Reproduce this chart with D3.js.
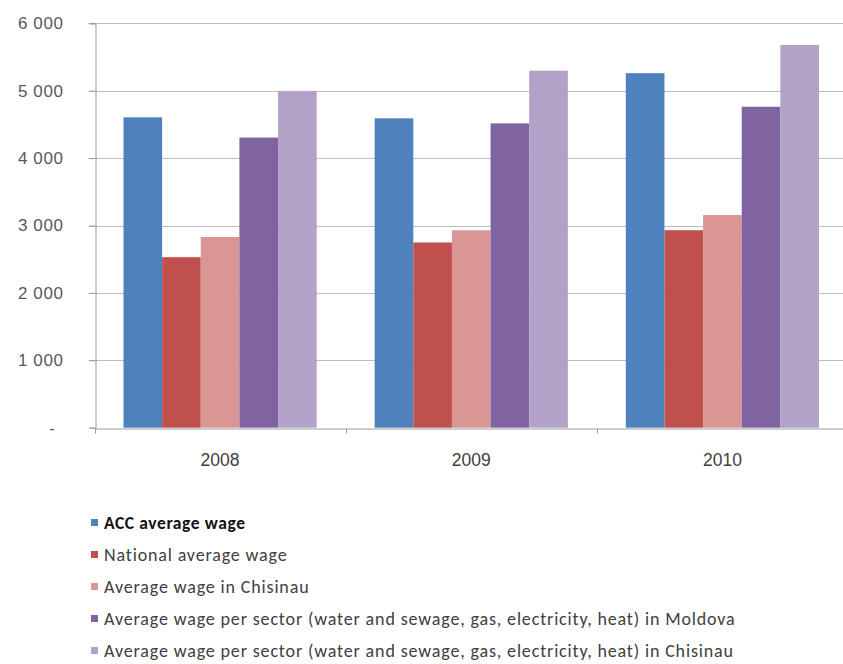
<!DOCTYPE html>
<html>
<head>
<meta charset="utf-8">
<script src="https://cdn.jsdelivr.net/npm/d3@7"></script>
<style>
  html, body { margin: 0; padding: 0; background: #ffffff; }
  svg { display: block; font-family: Carlito, Calibri, Lato, "Open Sans", sans-serif; }
</style>
</head>
<body>
<svg id="chart" width="843" height="664"></svg>
<script>
// Wage comparison, 2008-2010 (MDL)
const years = ["2008", "2009", "2010"];
const seriesNames = [
  "ACC average wage",
  "National average wage",
  "Average wage in Chisinau",
  "Average wage per sector (water and sewage, gas, electricity, heat) in Moldova",
  "Average wage per sector (water and sewage, gas, electricity, heat) in Chisinau"
];
const accWage      = [4605, 4590, 5260];
const nationalWage = [2530, 2748, 2930];
const chisinauWage = [2830, 2930, 3155];
const sectorMoldova   = [4305, 4515, 4762];
const sectorChisinau  = [4997, 5297, 5678];
const yTicks = [0, 1000, 2000, 3000, 4000, 5000, 6000];
const colors = ["#4F81BD", "#C0504D", "#DA9694", "#8064A2", "#B3A2C7"];

const seriesValues = [accWage, nationalWage, chisinauWage, sectorMoldova, sectorChisinau];

const svg = d3.select("#chart");
const plot = { left: 94.5, right: 848, top: 23.3, bottom: 427.7 };

const x = d3.scaleBand().domain(years).range([plot.left, plot.right]).paddingInner(0).paddingOuter(0);
// 150% gap between clusters: group occupies 5 / 6.5 of each band
const gapRatio = 1.5 / (seriesNames.length + 1.5);
const xs = d3.scaleBand().domain(d3.range(seriesNames.length))
  .range([x.bandwidth() * gapRatio / 2, x.bandwidth() * (1 - gapRatio / 2)]);
const y = d3.scaleLinear().domain([0, 6000]).range([plot.bottom, plot.top]);

const fmt = d3.formatLocale({ decimal: ",", thousands: " ", grouping: [3] }).format(",.0f");

// horizontal gridlines
svg.append("g")
  .selectAll("line")
  .data(yTicks.filter(d => d > 0))
  .join("line")
  .attr("x1", plot.left - 6).attr("x2", plot.right)
  .attr("y1", d => Math.round(y(d)) + 0.5).attr("y2", d => Math.round(y(d)) + 0.5)
  .attr("stroke", "#bdbdbd").attr("stroke-width", 1);

// bars
const groups = svg.append("g").selectAll("g")
  .data(years)
  .join("g")
  .attr("transform", d => `translate(${x(d)},0)`);

groups.selectAll("rect")
  .data((yr, i) => seriesValues.map((vals, s) => ({ s, v: vals[i] })))
  .join("rect")
  .attr("x", d => xs(d.s))
  .attr("width", xs.bandwidth())
  .attr("y", d => y(d.v))
  .attr("height", d => y(0) - y(d.v))
  .attr("fill", d => colors[d.s]);

// y axis
const yAxis = d3.axisLeft(y).tickValues(yTicks).tickSize(6).tickPadding(26)
  .tickFormat(d => d === 0 ? "-" : fmt(d));
const yg = svg.append("g")
  .attr("transform", `translate(${Math.round(plot.left) + 0.5},0)`)
  .call(yAxis);
yg.select(".domain").attr("stroke", "#9a9a9a");
yg.selectAll(".tick line").attr("stroke", "#9a9a9a");
yg.selectAll(".tick text")
  .attr("fill", "#595959")
  .style("font-size", "17px")
  .style("letter-spacing", "0.6px")
  .attr("dx", d => d === 0 ? "-8px" : 0);

// x axis
const xg = svg.append("g")
  .attr("transform", `translate(0,${Math.round(plot.bottom) + 0.5})`)
  .call(d3.axisBottom(x).tickSize(0).tickPadding(25));
xg.select(".domain").attr("stroke", "#9a9a9a");
xg.selectAll(".tick text").attr("fill", "#404040").style("font-size", "17.5px");
// category boundary tick marks
xg.append("g").selectAll("line")
  .data(years)
  .join("line")
  .attr("x1", d => Math.round(x(d)) + 0.5).attr("x2", d => Math.round(x(d)) + 0.5)
  .attr("y1", 0).attr("y2", 5)
  .attr("stroke", "#9a9a9a");

// legend
const legendTop = 523, legendStep = 32;
const legend = svg.append("g").selectAll("g")
  .data(seriesNames)
  .join("g")
  .attr("transform", (d, i) => `translate(91,${legendTop + i * legendStep})`);
legend.append("rect")
  .attr("x", 0).attr("y", -4).attr("width", 7).attr("height", 7)
  .attr("fill", (d, i) => colors[i]);
legend.append("text")
  .attr("x", 13).attr("y", 0).attr("dy", "0.35em")
  .attr("fill", (d, i) => i === 0 ? "#111" : "#404040")
  .style("font-weight", (d, i) => i === 0 ? "bold" : "normal")
  .style("font-size", (d, i) => i === 0 ? "17.5px" : "18px")
  .style("letter-spacing", (d, i) => i === 0 ? "0.6px" : "0.85px")
  .text(d => d);
</script>
</body>
</html>
